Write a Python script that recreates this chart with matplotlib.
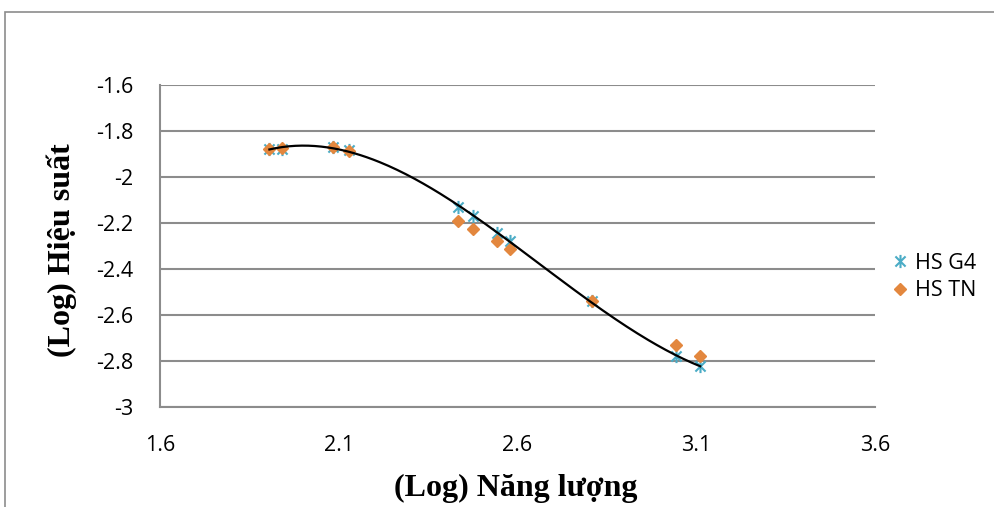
import matplotlib.pyplot as plt
import numpy as np
from matplotlib.path import Path
from matplotlib.patches import Rectangle

# log energy (x) and log efficiency (y)
log_energy = [1.906, 1.942, 2.083, 2.128, 2.433, 2.475, 2.544, 2.578, 2.808, 3.042, 3.111]
hs_g4 = [-1.878, -1.878, -1.870, -1.883, -2.130, -2.170, -2.243, -2.278, -2.539, -2.778, -2.822]
hs_tn = [-1.880, -1.874, -1.870, -1.887, -2.191, -2.226, -2.278, -2.313, -2.539, -2.730, -2.778]

x_ticks = [1.6, 2.1, 2.6, 3.1, 3.6]
y_ticks = [-3, -2.8, -2.6, -2.4, -2.2, -2, -1.8, -1.6]

TEAL = "#4BACC6"
ORANGE = "#E3873E"
GRID = "#8C8C8C"

# Excel-style star marker: an X plus a vertical stroke
star = Path(
    [(-1, -1), (1, 1), (-1, 1), (1, -1), (0, -1.3), (0, 1.3)],
    [Path.MOVETO, Path.LINETO, Path.MOVETO, Path.LINETO, Path.MOVETO, Path.LINETO],
)

fig = plt.figure(figsize=(9.94, 5.07), dpi=100)
ax = fig.add_axes([160 / 994, 1 - 407 / 507, 715 / 994, 322 / 507])

# outer chart frame (cropped at right and bottom)
fig.patches.append(Rectangle((5 / 994, -0.1), 1.2, 1 - 12 / 507 + 0.1,
                             transform=fig.transFigure, fill=False,
                             edgecolor="#8C8C8C", linewidth=1.2))

ax.plot(log_energy, hs_g4, linestyle="none", marker=star, markersize=9.5,
        markeredgecolor=TEAL, markeredgewidth=1.5, label="HS G4", zorder=3)
ax.plot(log_energy, hs_tn, linestyle="none", marker="D", markersize=6.5,
        color=ORANGE, markeredgecolor=ORANGE, label="HS TN", zorder=4)

# polynomial trendline (Excel style) through the G4 series
coef = np.polyfit(log_energy, hs_g4, 3)
xs = np.linspace(min(log_energy), max(log_energy), 200)
ax.plot(xs, np.polyval(coef, xs), color="black", linewidth=1.6, zorder=5)

ax.set_xlim(1.6, 3.6)
ax.set_ylim(-3, -1.6)
ax.set_xticks(x_ticks)
ax.set_xticklabels([f"{v:g}" for v in x_ticks])
ax.set_yticks(y_ticks)
ax.set_yticklabels([f"{v:g}" for v in y_ticks])
ax.tick_params(length=0, labelsize=15.5, colors="black")
ax.tick_params(axis="y", pad=19)
ax.tick_params(axis="x", pad=20)
for lab in ax.get_xticklabels() + ax.get_yticklabels():
    lab.set_fontfamily("Open Sans")

ax.grid(axis="y", color=GRID, linewidth=1.5)
ax.set_axisbelow(True)
for side in ["top", "right"]:
    ax.spines[side].set_visible(False)
for side in ["left", "bottom"]:
    ax.spines[side].set_color(GRID)
    ax.spines[side].set_linewidth(1.5)

fig.text(516 / 994, 1 - 488 / 507, "(Log) Năng lượng", ha="center", va="center",
         fontsize=23, fontweight="bold", family="Liberation Serif")
fig.text(62 / 994, 1 - 250 / 507, "(Log) Hiệu suất", ha="center", va="center",
         rotation=90, fontsize=23, fontweight="bold", family="Liberation Serif")

fig.legend(loc="center left", bbox_to_anchor=(874 / 994, 1 - 277 / 507),
           frameon=False, handlelength=0.6, handletextpad=0.4, labelspacing=0.3,
           prop={"family": "Open Sans", "size": 15.5})

fig.savefig("out.png", dpi=100)
